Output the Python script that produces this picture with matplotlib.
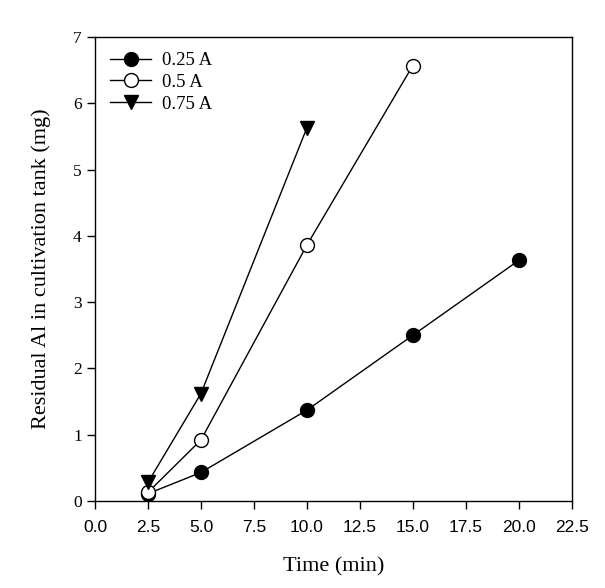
import matplotlib
matplotlib.use("Agg")
import matplotlib.pyplot as plt

# data
time_025 = [2.5, 5, 10, 15, 20]
al_025 = [0.11, 0.43, 1.37, 2.50, 3.63]
time_05 = [2.5, 5, 10, 15]
al_05 = [0.13, 0.92, 3.86, 6.57]
time_075 = [2.5, 5, 10]
al_075 = [0.28, 1.62, 5.63]

xticks = [0, 2.5, 5, 7.5, 10, 12.5, 15, 17.5, 20, 22.5]
yticks = [0, 1, 2, 3, 4, 5, 6, 7]

plt.rcParams["font.family"] = "Liberation Serif"

fig = plt.figure(figsize=(6.05, 5.88), dpi=100)
ax = fig.add_axes([0.157, 0.148, 0.788, 0.789])

ax.plot(time_025, al_025, "-o", color="black", lw=1, ms=10,
        mfc="black", mec="black", label="0.25 A")
ax.plot(time_05, al_05, "-o", color="black", lw=1, ms=10,
        mfc="white", mec="black", label="0.5 A")
ax.plot(time_075, al_075, "-v", color="black", lw=1, ms=10,
        mfc="black", mec="black", label="0.75 A")

ax.set_xlim(0, 22.5)
ax.set_ylim(0, 7)
ax.set_xticks(xticks)
ax.set_xticklabels(["%.1f" % t for t in xticks])
ax.set_yticks(yticks)
ax.set_yticklabels([str(t) for t in yticks])
ax.tick_params(direction="out", length=6, width=1, labelsize=12.5)
ax.tick_params(axis="x", pad=8, labelfontfamily="Liberation Sans")
for s in ax.spines.values():
    s.set_linewidth(1)

ax.set_xlabel("Time (min)", fontsize=16, labelpad=16)
ax.set_ylabel("Residual Al in cultivation tank (mg)", fontsize=16, labelpad=16)

ax.legend(loc="upper left", frameon=False, fontsize=13.5, handlelength=2.2,
          borderaxespad=0.4, labelspacing=0.25, handletextpad=0.6)

fig.savefig("out.png", dpi=100)
